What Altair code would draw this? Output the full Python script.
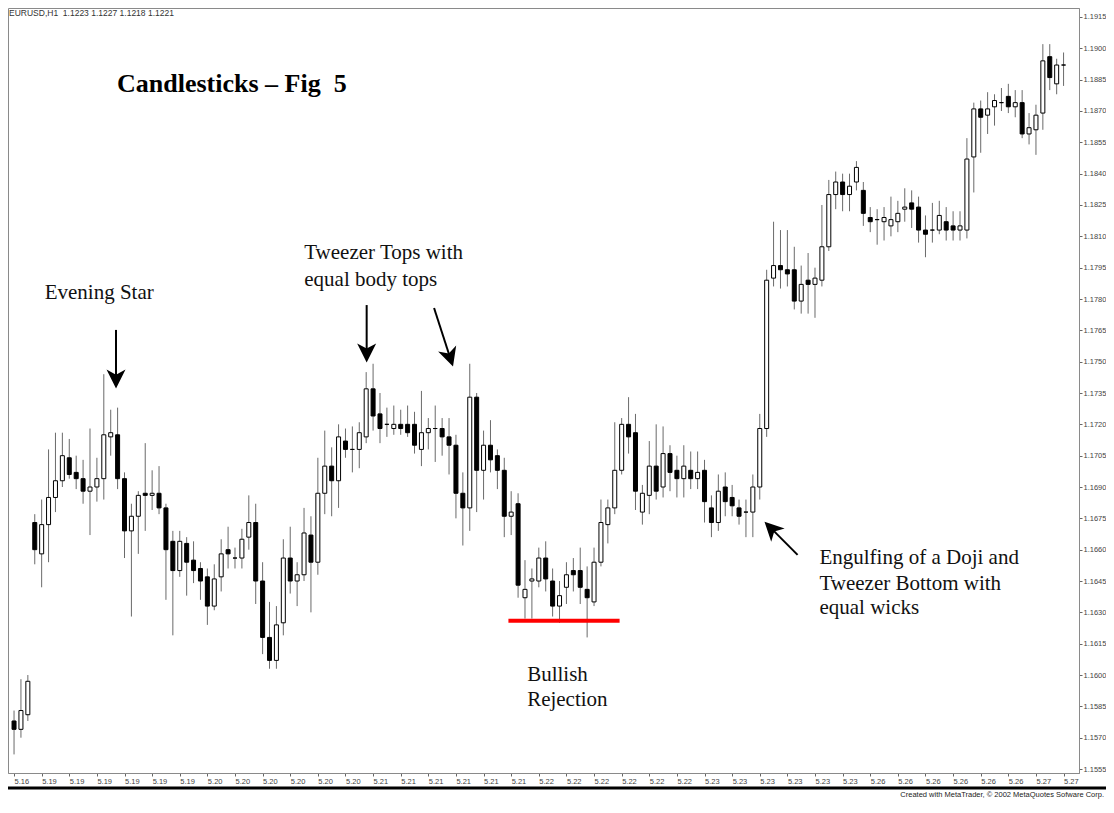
import altair as alt
import pandas as pd

# ---------------- data ----------------
opens = [1.1578, 1.1574, 1.1581, 1.1673, 1.1658, 1.1672, 1.1685, 1.1693, 1.1704, 1.1697,
         1.1694, 1.1688, 1.1690, 1.1694, 1.1714, 1.1715, 1.1694, 1.1669, 1.1676, 1.1687,
         1.1686, 1.1687, 1.1680, 1.1664, 1.1650, 1.1663, 1.1655, 1.1651, 1.1647, 1.1633,
         1.1647, 1.1660, 1.1656, 1.1656, 1.1666, 1.1673, 1.1645, 1.1618, 1.1607, 1.1625,
         1.1656, 1.1645, 1.1648, 1.1667, 1.1654, 1.1687, 1.1700, 1.1693, 1.1712, 1.1708,
         1.1708, 1.1714, 1.1737, 1.1725, 1.1720, 1.1718, 1.1720, 1.1720, 1.1720, 1.1708,
         1.1716, 1.1718, 1.1718, 1.1714, 1.1710, 1.1687, 1.1680, 1.1733, 1.1698, 1.1710,
         1.1705, 1.1698, 1.1676, 1.1682, 1.1637, 1.1645, 1.1645, 1.1656, 1.1645, 1.1633,
         1.1642, 1.1650, 1.1650, 1.1641, 1.1635, 1.1654, 1.1672, 1.1680, 1.1698, 1.1720,
         1.1716, 1.1678, 1.1686, 1.1700, 1.1690, 1.1706, 1.1698, 1.1694, 1.1698, 1.1694,
         1.1698, 1.1680, 1.1673, 1.1690, 1.1685, 1.1680, 1.1678, 1.1678, 1.1690, 1.1718,
         1.1790, 1.1796, 1.1794, 1.1794, 1.1779, 1.1789, 1.1787, 1.1789, 1.1805, 1.1830,
         1.1836, 1.1830, 1.1836, 1.1832, 1.1819, 1.1818, 1.1817, 1.1815, 1.1817, 1.1823,
         1.1826, 1.1824, 1.1813, 1.1813, 1.1813, 1.1817, 1.1815, 1.1813, 1.1813, 1.1848,
         1.1871, 1.1868, 1.1872, 1.1874, 1.1877, 1.1872, 1.1874, 1.1859, 1.1861, 1.1869,
         1.1896, 1.1883, 1.1892]
highs = [1.1583, 1.1598, 1.1600, 1.1677, 1.1684, 1.1708, 1.1716, 1.1716, 1.1713, 1.1705,
         1.1703, 1.1718, 1.1704, 1.1744, 1.1727, 1.1728, 1.1697, 1.1682, 1.1688, 1.1711,
         1.1698, 1.1700, 1.1682, 1.1669, 1.1669, 1.1666, 1.1664, 1.1654, 1.1651, 1.1653,
         1.1665, 1.1671, 1.1661, 1.1670, 1.1686, 1.1682, 1.1654, 1.1635, 1.1633, 1.1665,
         1.1671, 1.1654, 1.1680, 1.1676, 1.1704, 1.1717, 1.1709, 1.1720, 1.1718, 1.1719,
         1.1721, 1.1745, 1.1749, 1.1735, 1.1728, 1.1729, 1.1727, 1.1729, 1.1726, 1.1736,
         1.1723, 1.1729, 1.1723, 1.1723, 1.1715, 1.1697, 1.1749, 1.1735, 1.1717, 1.1722,
         1.1708, 1.1704, 1.1688, 1.1687, 1.1655, 1.1651, 1.1661, 1.1664, 1.1651, 1.1645,
         1.1654, 1.1656, 1.1661, 1.1652, 1.1661, 1.1684, 1.1684, 1.1721, 1.1723, 1.1733,
         1.1725, 1.1691, 1.1712, 1.1720, 1.1719, 1.1710, 1.1705, 1.1710, 1.1707, 1.1707,
         1.1703, 1.1686, 1.1696, 1.1697, 1.1691, 1.1684, 1.1684, 1.1696, 1.1725, 1.1794,
         1.1817, 1.1813, 1.1813, 1.1805, 1.1796, 1.1802, 1.1795, 1.1825, 1.1837, 1.1841,
         1.1840, 1.1840, 1.1846, 1.1836, 1.1824, 1.1823, 1.1824, 1.1829, 1.1827, 1.1833,
         1.1832, 1.1829, 1.1820, 1.1826, 1.1827, 1.1824, 1.1822, 1.1822, 1.1857, 1.1874,
         1.1875, 1.1879, 1.1878, 1.1881, 1.1883, 1.1880, 1.1880, 1.1869, 1.1873, 1.1902,
         1.1902, 1.1895, 1.1898]
lows = [1.1562, 1.1570, 1.1578, 1.1653, 1.1642, 1.1654, 1.1678, 1.1690, 1.1694, 1.1689,
        1.1682, 1.1667, 1.1683, 1.1684, 1.1705, 1.1689, 1.1656, 1.1628, 1.1658, 1.1669,
        1.1679, 1.1677, 1.1636, 1.1619, 1.1647, 1.1638, 1.1644, 1.1636, 1.1624, 1.1631,
        1.1640, 1.1651, 1.1651, 1.1651, 1.1660, 1.1634, 1.1610, 1.1603, 1.1603, 1.1619,
        1.1639, 1.1633, 1.1645, 1.1630, 1.1648, 1.1677, 1.1676, 1.1680, 1.1704, 1.1697,
        1.1699, 1.1711, 1.1717, 1.1711, 1.1714, 1.1715, 1.1715, 1.1714, 1.1706, 1.1700,
        1.1708, 1.1702, 1.1705, 1.1696, 1.1675, 1.1662, 1.1669, 1.1678, 1.1684, 1.1697,
        1.1689, 1.1666, 1.1667, 1.1637, 1.1627, 1.1627, 1.1642, 1.1640, 1.1628, 1.1625,
        1.1634, 1.1640, 1.1634, 1.1618, 1.1633, 1.1652, 1.1663, 1.1677, 1.1696, 1.1706,
        1.1679, 1.1672, 1.1677, 1.1684, 1.1685, 1.1688, 1.1685, 1.1685, 1.1689, 1.1689,
        1.1673, 1.1666, 1.1669, 1.1676, 1.1676, 1.1672, 1.1666, 1.1666, 1.1684, 1.1714,
        1.1786, 1.1785, 1.1786, 1.1775, 1.1773, 1.1773, 1.1771, 1.1786, 1.1803, 1.1823,
        1.1822, 1.1822, 1.1832, 1.1815, 1.1812, 1.1806, 1.1808, 1.1810, 1.1812, 1.1817,
        1.1814, 1.1807, 1.1800, 1.1807, 1.1811, 1.1808, 1.1808, 1.1808, 1.1809, 1.1831,
        1.1850, 1.1859, 1.1863, 1.1870, 1.1869, 1.1867, 1.1857, 1.1854, 1.1849, 1.1861,
        1.1880, 1.1878, 1.1882]
closes = [1.1574, 1.1583, 1.1597, 1.1660, 1.1672, 1.1685, 1.1693, 1.1705, 1.1696, 1.1694,
          1.1688, 1.1690, 1.1694, 1.1715, 1.1716, 1.1694, 1.1669, 1.1676, 1.1686, 1.1686,
          1.1687, 1.1680, 1.1660, 1.1650, 1.1664, 1.1654, 1.1650, 1.1645, 1.1633, 1.1646,
          1.1658, 1.1658, 1.1656, 1.1665, 1.1673, 1.1645, 1.1618, 1.1607, 1.1624, 1.1656,
          1.1645, 1.1648, 1.1668, 1.1654, 1.1687, 1.1700, 1.1693, 1.1714, 1.1708, 1.1708,
          1.1716, 1.1737, 1.1724, 1.1718, 1.1720, 1.1720, 1.1718, 1.1716, 1.1710, 1.1716,
          1.1718, 1.1718, 1.1714, 1.1710, 1.1687, 1.1680, 1.1733, 1.1698, 1.1710, 1.1703,
          1.1698, 1.1676, 1.1678, 1.1643, 1.1641, 1.1646, 1.1656, 1.1646, 1.1633, 1.1638,
          1.1648, 1.1648, 1.1642, 1.1637, 1.1654, 1.1673, 1.1680, 1.1698, 1.1720, 1.1714,
          1.1688, 1.1687, 1.1700, 1.1688, 1.1706, 1.1697, 1.1694, 1.1700, 1.1694, 1.1697,
          1.1683, 1.1673, 1.1688, 1.1683, 1.1681, 1.1676, 1.1678, 1.1690, 1.1718, 1.1789,
          1.1796, 1.1794, 1.1792, 1.1779, 1.1787, 1.1787, 1.1790, 1.1805, 1.1830, 1.1836,
          1.1830, 1.1834, 1.1843, 1.1821, 1.1817, 1.1818, 1.1819, 1.1818, 1.1821, 1.1824,
          1.1823, 1.1813, 1.1811, 1.1813, 1.1820, 1.1813, 1.1813, 1.1815, 1.1847, 1.1871,
          1.1867, 1.1871, 1.1875, 1.1874, 1.1872, 1.1874, 1.1859, 1.1862, 1.1868, 1.1894,
          1.1886, 1.1892, 1.1892]

# x-axis: a date label every 4 hourly bars
date_tick_bars = [0, 4, 8, 12, 16, 20, 24, 28, 32, 36, 40, 44, 48, 52, 56, 60, 64, 68, 72,
                  76, 80, 84, 88, 92, 96, 100, 104, 108, 112, 116, 120, 124, 128, 132, 136,
                  140, 144, 148, 152]
date_labels = ["5.16",
               "5.19", "5.19", "5.19", "5.19", "5.19", "5.19",
               "5.20", "5.20", "5.20", "5.20", "5.20", "5.20",
               "5.21", "5.21", "5.21", "5.21", "5.21", "5.21",
               "5.22", "5.22", "5.22", "5.22", "5.22", "5.22",
               "5.23", "5.23", "5.23", "5.23", "5.23", "5.23",
               "5.26", "5.26", "5.26", "5.26", "5.26", "5.26",
               "5.27", "5.27"]
price_ticks = [1.1555, 1.1570, 1.1585, 1.1600, 1.1615, 1.1630, 1.1645, 1.1660, 1.1675,
               1.1690, 1.1705, 1.1720, 1.1735, 1.1750, 1.1765, 1.1780, 1.1795, 1.1810,
               1.1825, 1.1840, 1.1855, 1.1870, 1.1885, 1.1900, 1.1915]

# annotations (bar index / price coordinates)
note_texts = ["Evening Star", "Tweezer Tops with", "equal body tops",
              "Engulfing of a Doji and", "Tweezer Bottom with", "equal wicks",
              "Bullish", "Rejection"]
note_bars = [4.44, 42.03, 42.03, 116.64, 116.64, 116.64, 74.31, 74.31]
note_prices = [1.17800, 1.17992, 1.17862, 1.16532, 1.16407, 1.16292, 1.15971, 1.15852]

arrow_bar_start = [14.77, 51.07, 60.83, 113.48]
arrow_price_start = [1.17652, 1.17771, 1.17757, 1.16575]
arrow_bar_head = [14.77, 51.07, 63.15, 109.66]
arrow_price_head = [1.17417, 1.17542, 1.17520, 1.16702]
arrow_angle = [0, 0, 342, 135]

support_bar_start = [71.6]
support_bar_end = [87.7]
support_price = [1.1626]

title_text = "Candlesticks \u2013 Fig \u00a05"
header_text = "EURUSD,H1\u00a0 1.1223 1.1227 1.1218 1.1221"
credit_text = "Created with MetaTrader, \u00a9 2002 MetaQuotes Sofware Corp."

# ---------------- chart ----------------
candles = pd.DataFrame({"bar": list(range(len(opens))), "open": opens, "high": highs,
                        "low": lows, "close": closes})
notes = pd.DataFrame({"bar": note_bars, "price": note_prices, "text": note_texts})
arrows = pd.DataFrame({"bar": arrow_bar_start, "price": arrow_price_start,
                       "bar2": arrow_bar_head, "price2": arrow_price_head,
                       "angle": arrow_angle})
support = pd.DataFrame({"bar": support_bar_start, "bar2": support_bar_end,
                        "price": support_price})
one = pd.DataFrame({"k": [0]})

XS = alt.Scale(domain=[-0.15, 153.51], nice=False, zero=False)
YS = alt.Scale(domain=[1.15531, 1.19193], nice=False, zero=False)

label_array = "[" + ",".join("'%s'" % s for s in date_labels) + "]"
X_AX = alt.Axis(values=date_tick_bars, labelExpr=label_array + "[round(datum.value/4)]",
                title=None, grid=False, orient="bottom", domainColor="#8a8a8a",
                tickColor="#666", tickSize=3, labelFont="Liberation Sans",
                labelFontSize=7.5, labelColor="#444", labelAlign="left",
                labelPadding=1, labelFlush=False, labelOverlap=False)
Y_AX = alt.Axis(values=price_ticks, format=".4f", title=None, grid=False,
                orient="right", domainColor="#8a8a8a", tickColor="#666", tickSize=3,
                labelFont="Liberation Sans", labelFontSize=7.5, labelColor="#444",
                labelPadding=1, labelFlush=False, labelOverlap=False)


def xe(field):
    return alt.X(field, type="quantitative", scale=XS, axis=X_AX)


def ye(field):
    return alt.Y(field, type="quantitative", scale=YS, axis=Y_AX)


wicks = alt.Chart(candles).mark_rule(color="#6a6a6a", strokeWidth=1).encode(
    x=xe("bar"), y=ye("low"), y2="high")

bodies = alt.Chart(candles).transform_calculate(
    body_fill="datum.close >= datum.open ? '#ffffff' : '#000000'"
).mark_bar(size=4, stroke="#000000", strokeWidth=1).encode(
    x=xe("bar"), y=ye("open"), y2="close", fill=alt.Fill("body_fill:N", scale=None))

support_line = alt.Chart(support).mark_rule(color="#ff0000", strokeWidth=4).encode(
    x=xe("bar"), x2="bar2", y=ye("price"))

arrow_shafts = alt.Chart(arrows).mark_rule(color="#000000", strokeWidth=2).encode(
    x=xe("bar"), x2="bar2", y=ye("price"), y2="price2")

arrow_heads = alt.Chart(arrows).mark_point(
    shape="M0,1L-1,-1L0,-0.45L1,-1Z", filled=True, size=361, color="#000000",
    opacity=1, strokeWidth=0).encode(
    x=xe("bar2"), y=ye("price2"), angle=alt.Angle("angle:Q", scale=None))

note_marks = alt.Chart(notes).mark_text(
    align="left", baseline="alphabetic", font="Liberation Serif", fontSize=21,
    color="#111111").encode(x=xe("bar"), y=ye("price"), text="text:N")

title_mark = alt.Chart(one).mark_text(
    align="left", baseline="alphabetic", font="Liberation Serif", fontSize=26,
    fontWeight="bold", color="#000000").encode(
    x=alt.value(109), y=alt.value(84), text=alt.value(title_text))

header_mark = alt.Chart(one).mark_text(
    align="left", baseline="middle", font="Liberation Sans", fontSize=8.5,
    color="#333333").encode(x=alt.value(1), y=alt.value(4.5), text=alt.value(header_text))

separator = alt.Chart(one).mark_rule(color="#000000", strokeWidth=3).encode(
    x=alt.value(0), x2=alt.value(1098), y=alt.value(780))

credit = alt.Chart(one).mark_text(
    align="right", baseline="middle", font="Liberation Sans", fontSize=7.5,
    color="#222222").encode(x=alt.value(1096), y=alt.value(786.5), text=alt.value(credit_text))

chart = alt.layer(
    wicks, bodies, support_line, arrow_shafts, arrow_heads, note_marks,
    title_mark, header_mark, separator, credit
).properties(
    width=1071, height=765,
    autosize=alt.AutoSizeParams(type="none"),
    padding={"left": 0, "top": 0, "right": 27, "bottom": 26},
    background="#ffffff"
).configure_view(stroke="#8a8a8a", strokeWidth=1)

chart.save("out.html", embed_options={"renderer": "svg", "actions": False})
